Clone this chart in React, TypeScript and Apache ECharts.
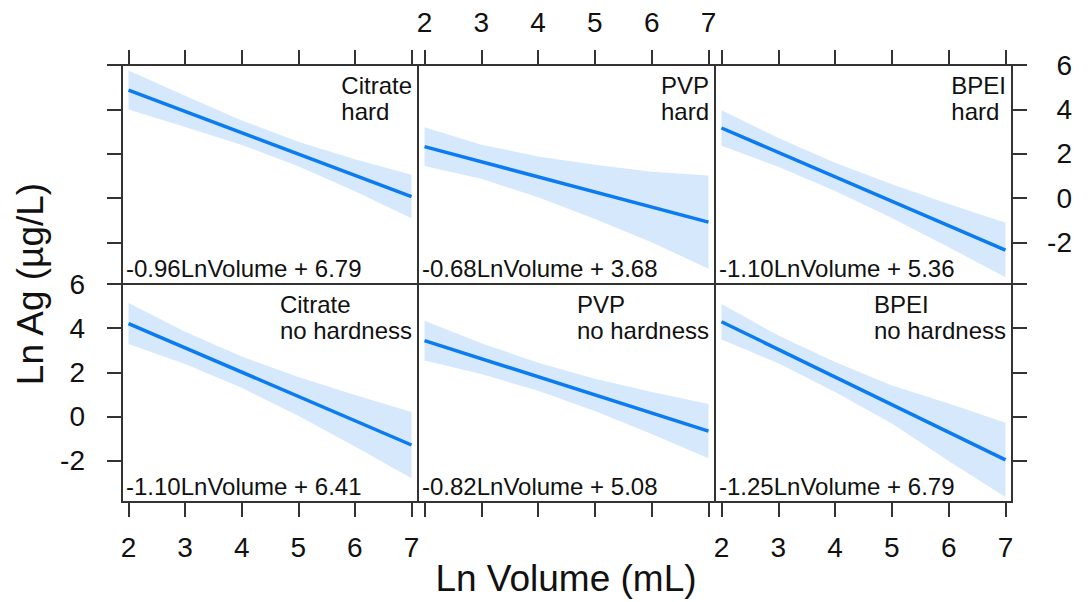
import React, { useEffect, useRef } from "react";
import * as echarts from "echarts";

// ---------- data ----------
const COATINGS = ["Citrate", "PVP", "BPEI"];
const HARDNESS = ["hard", "no hardness"];
const EQUATIONS = [
  "-0.96LnVolume + 6.79",
  "-0.68LnVolume + 3.68",
  "-1.10LnVolume + 5.36",
  "-1.10LnVolume + 6.41",
  "-0.82LnVolume + 5.08",
  "-1.25LnVolume + 6.79",
];
const FIT_X = [2, 7];
const FIT_Y = [
  [4.87, 0.07],
  [2.32, -1.08],
  [3.16, -2.34],
  [4.21, -1.29],
  [3.44, -0.66],
  [4.29, -1.96],
];
const BAND_X = [2, 3, 4, 5, 6, 7];
const BAND_UPPER = [
  [5.75, 4.61, 3.5, 2.54, 1.75, 1.05],
  [3.19, 2.41, 1.88, 1.5, 1.19, 1.02],
  [3.96, 2.71, 1.6, 0.62, -0.27, -1.11],
  [5.14, 3.84, 2.72, 1.79, 0.98, 0.21],
  [4.34, 3.32, 2.43, 1.71, 1.11, 0.57],
  [5.09, 3.67, 2.47, 1.4, 0.59, -0.28],
];
const BAND_LOWER = [
  [3.99, 3.21, 2.4, 1.44, 0.31, -0.91],
  [1.45, 0.87, 0.04, -0.94, -1.99, -3.18],
  [2.36, 1.41, 0.32, -0.9, -2.21, -3.57],
  [3.28, 2.38, 1.3, 0.03, -1.36, -2.79],
  [2.54, 1.92, 1.17, 0.25, -0.79, -1.89],
  [3.49, 2.41, 1.11, -0.32, -2.01, -3.64],
];
const X_TICKS = [2, 3, 4, 5, 6, 7];
const Y_TICKS = [-2, 0, 2, 4, 6];
const X_TITLE = "Ln Volume (mL)";
const Y_TITLE = "Ln Ag (µg/L)";

// ---------- layout / style ----------
const X_MIN = 1.885;
const X_MAX = 7.115;
const Y_MIN = -3.87;
const Y_MAX = 6;
const COL_LEFT = [122, 418, 715];
const COL_W = [296, 297, 297];
const ROW_TOP = [65, 284];
const ROW_H = [219, 218];
const FONT = '"Liberation Sans", Arial, Helvetica, sans-serif';
const LINE_COLOR = "#0b7bf2";
const BAND_COLOR = "#d6e8fc";
const FRAME = "#333333";
const TEXT = "#111111";

export default function App() {
  const ref = useRef<HTMLDivElement>(null);

  useEffect(() => {
    if (!ref.current) return;
    const chart = echarts.init(ref.current, undefined, { renderer: "svg" });

    const grid: any[] = [];
    const xAxis: any[] = [];
    const yAxis: any[] = [];
    const series: any[] = [];
    const graphic: any[] = [];

    for (let p = 0; p < 6; p++) {
      const r = Math.floor(p / 3);
      const c = p % 3;
      grid.push({
        left: COL_LEFT[c],
        top: ROW_TOP[r],
        width: COL_W[c],
        height: ROW_H[r],
        show: true,
        borderColor: FRAME,
        borderWidth: 2,
        backgroundColor: "transparent",
        containLabel: false,
        outerBoundsMode: "none",
      });
      const showXLabel = (r === 0 && c === 1) || (r === 1 && c !== 1);
      xAxis.push({
        type: "value",
        gridIndex: p,
        min: X_MIN,
        max: X_MAX,
        position: r === 0 ? "top" : "bottom",
        axisLine: { show: false, onZero: false },
        splitLine: { show: false },
        axisTick: {
          show: true,
          length: 15,
          customValues: X_TICKS,
          lineStyle: { color: FRAME, width: 2 },
        },
        axisLabel: {
          show: showXLabel,
          customValues: X_TICKS,
          fontSize: 28,
          fontFamily: FONT,
          color: TEXT,
          margin: r === 0 ? 43 : 45,
          verticalAlign: "middle",
        },
      });
      const showYTick = c !== 1;
      const showYLabel = (c === 0 && r === 1) || (c === 2 && r === 0);
      yAxis.push({
        type: "value",
        gridIndex: p,
        min: Y_MIN,
        max: Y_MAX,
        position: c === 2 ? "right" : "left",
        axisLine: { show: false, onZero: false },
        splitLine: { show: false },
        axisTick: {
          show: showYTick,
          length: 15,
          customValues: Y_TICKS,
          lineStyle: { color: FRAME, width: 2 },
        },
        axisLabel: {
          show: showYLabel,
          customValues: Y_TICKS,
          fontSize: 28,
          fontFamily: FONT,
          color: TEXT,
          align: "right",
          margin: c === 2 ? 60 : 37,
        },
      });

      const upper = BAND_UPPER[p];
      const lower = BAND_LOWER[p];
      series.push({
        type: "custom",
        xAxisIndex: p,
        yAxisIndex: p,
        silent: true,
        data: BAND_X.map((x, k) => [x, lower[k], upper[k]]),
        encode: { x: 0, y: [1, 2] },
        renderItem: (params: any, api: any) => {
          if (params.dataIndex !== 0) return null;
          const pts: number[][] = [];
          for (let k = 0; k < BAND_X.length; k++) pts.push(api.coord([BAND_X[k], upper[k]]));
          for (let k = BAND_X.length - 1; k >= 0; k--) pts.push(api.coord([BAND_X[k], lower[k]]));
          return {
            type: "polygon",
            shape: { points: pts },
            style: { fill: BAND_COLOR, stroke: null },
          };
        },
        z: 1,
      });
      series.push({
        type: "line",
        xAxisIndex: p,
        yAxisIndex: p,
        data: FIT_X.map((x, k) => [x, FIT_Y[p][k]]),
        symbol: "none",
        silent: true,
        lineStyle: { color: LINE_COLOR, width: 3.5 },
        z: 2,
      });

      const right = COL_LEFT[c] + COL_W[c] - 6;
      graphic.push({
        type: "text",
        x: right,
        y: ROW_TOP[r] + 7,
        z: 10,
        style: {
          text: `{a|${COATINGS[c]}}\n{a|${HARDNESS[r]}}`,
          rich: {
            a: { align: "left", fontSize: 24, lineHeight: 26, fontFamily: FONT, fill: TEXT },
          },
          align: "right",
          textAlign: "right",
          verticalAlign: "top",
          textVerticalAlign: "top",
          fontSize: 24,
          fontFamily: FONT,
          fill: TEXT,
        },
      });
      graphic.push({
        type: "text",
        x: COL_LEFT[c] + 4,
        y: ROW_TOP[r] + ROW_H[r] - 16,
        z: 10,
        style: {
          text: EQUATIONS[p],
          fontSize: 24,
          fontFamily: FONT,
          fill: TEXT,
          align: "left",
          textAlign: "left",
          verticalAlign: "middle",
          textVerticalAlign: "middle",
        },
      });
    }

    graphic.push({
      type: "text",
      x: 566,
      y: 578,
      style: {
        text: X_TITLE,
        fontSize: 37,
        fontFamily: FONT,
        fill: TEXT,
        align: "center",
        textAlign: "center",
        verticalAlign: "middle",
        textVerticalAlign: "middle",
      },
    });
    graphic.push({
      type: "text",
      x: 30,
      y: 284,
      rotation: Math.PI / 2,
      style: {
        text: Y_TITLE,
        fontSize: 37,
        fontFamily: FONT,
        fill: TEXT,
        align: "center",
        textAlign: "center",
        verticalAlign: "middle",
        textVerticalAlign: "middle",
      },
    });

    chart.setOption({
      animation: false,
      backgroundColor: "#ffffff",
      grid,
      xAxis,
      yAxis,
      series,
      graphic,
    });

    return () => chart.dispose();
  }, []);

  return (
    <div
      ref={ref}
      style={{ position: "fixed", left: 0, top: 0, width: 1089, height: 602, background: "#fff" }}
    />
  );
}
